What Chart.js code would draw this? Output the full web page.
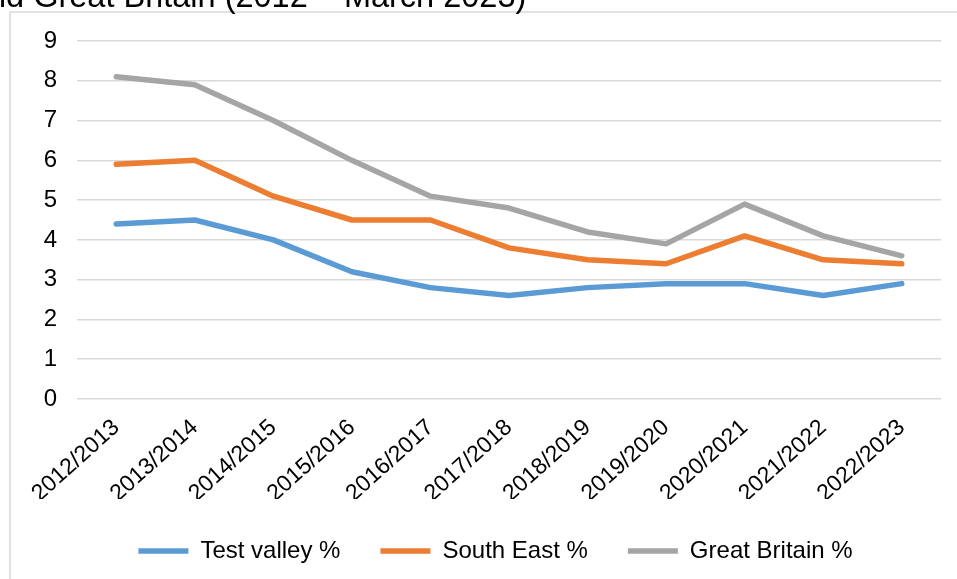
<!DOCTYPE html>
<html>
<head>
<meta charset="utf-8">
<script src="https://cdn.jsdelivr.net/npm/chart.js@4/dist/chart.umd.min.js"></script>
<style>
  html, body { margin: 0; padding: 0; background: #fff; }
  #wrap { width: 957px; height: 579px; position: relative; }
</style>
</head>
<body>
<div id="wrap"><canvas id="chart"></canvas></div>
<script>
const years = [
  '2012/2013', '2013/2014', '2014/2015', '2015/2016', '2016/2017', '2017/2018',
  '2018/2019', '2019/2020', '2020/2021', '2021/2022', '2022/2023'
];
const testValley = [4.4, 4.5, 4.0, 3.2, 2.8, 2.6, 2.8, 2.9, 2.9, 2.6, 2.9];
const southEast = [5.9, 6.0, 5.1, 4.5, 4.5, 3.8, 3.5, 3.4, 4.1, 3.5, 3.4];
const greatBritain = [8.1, 7.9, 7.0, 6.0, 5.1, 4.8, 4.2, 3.9, 4.9, 4.1, 3.6];

const FONT = "'Liberation Sans', Arial, sans-serif";

// title is cut off at the top of the picture, plus the light frame
const frame = {
  id: 'frame',
  afterLayout(chart) {
    // legend sits a bit right of centre in the original
    if (chart.legend) {
      chart.legend.left += 25;
      chart.legend.right += 25;
    }
  },
  beforeDraw(chart) {
    const c = chart.ctx;
    c.save();
    c.strokeStyle = '#d9d9d9';
    c.lineWidth = 1.5;
    c.beginPath();
    c.moveTo(10, 579);
    c.lineTo(10, 12);
    c.lineTo(957, 12);
    c.stroke();
    c.fillStyle = '#000';
    c.font = '32.5px ' + FONT;
    c.textBaseline = 'alphabetic';
    c.textAlign = 'left';
    c.fillText('nd Great Britain (2012 \u2013 March 2023)', -12, 7);
    c.restore();
  }
};

function line(label, data, color) {
  return {
    label: label,
    data: data,
    borderColor: color,
    backgroundColor: color,
    borderWidth: 5.5,
    borderCapStyle: 'round',
    borderJoinStyle: 'round',
    pointRadius: 0,
    pointHoverRadius: 0,
    tension: 0,
    fill: false
  };
}

new Chart(document.getElementById('chart'), {
  type: 'line',
  data: {
    labels: years,
    datasets: [
      line('Test valley %', testValley, '#5b9bd5'),
      line('South East %', southEast, '#ed7d31'),
      line('Great Britain %', greatBritain, '#a5a5a5')
    ]
  },
  plugins: [frame],
  options: {
    responsive: true,
    maintainAspectRatio: false,
    animation: false,
    layout: { padding: { left: 0, right: 16, top: 41, bottom: 6 } },
    scales: {
      x: {
        offset: true,
        grid: { display: false, drawTicks: false },
        border: { display: false },
        ticks: {
          color: '#000',
          font: { family: FONT, size: 23 },
          maxRotation: 42,
          minRotation: 42,
          padding: 15,
          autoSkip: false
        },
        afterFit(axis) { axis.height = 100; }
      },
      y: {
        min: 0,
        max: 9,
        grid: { color: '#d9d9d9', lineWidth: 1.5, drawTicks: false },
        border: { display: false },
        ticks: {
          stepSize: 1,
          color: '#000',
          font: { family: FONT, size: 24 },
          padding: 20
        },
        afterFit(axis) { axis.width = 77; }
      }
    },
    plugins: {
      tooltip: { enabled: false },
      legend: {
        position: 'bottom',
        labels: {
          color: '#000',
          font: { family: FONT, size: 24 },
          usePointStyle: true,
          pointStyle: 'line',
          pointStyleWidth: 50,
          padding: 40
        }
      }
    }
  }
});
</script>
</body>
</html>
